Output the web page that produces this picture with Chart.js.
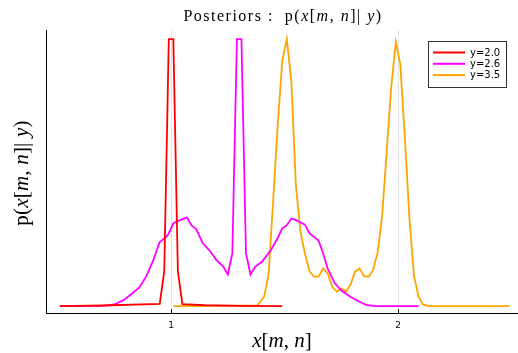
<!DOCTYPE html>
<html>
<head>
<meta charset="utf-8">
<script src="https://cdn.jsdelivr.net/npm/chart.js@4/dist/chart.umd.min.js"></script>
<style>
  html, body { margin: 0; padding: 0; background: #fff; }
  #c { display: block; }
</style>
</head>
<body>
<canvas id="c" width="518" height="353"></canvas>
<script>
// ---- data ----
const seriesLabels = ["y=2.0", "y=2.6", "y=3.5"];
const seriesColors = ["#ff0000", "#ff00ff", "#ffa500"];

const redX = [0.51, 0.70, 0.95, 0.97, 0.99, 1.01, 1.03, 1.05, 1.15, 1.30, 1.49];
const redY = [0.000, 0.002, 0.008, 0.130, 1.000, 1.000, 0.130, 0.007, 0.003, 0.001, 0.000];

const magX = [0.51, 0.70, 0.75, 0.79, 0.83, 0.86, 0.89, 0.92, 0.95, 0.98, 0.99, 1.01, 1.04, 1.07, 1.09, 1.11, 1.14, 1.17, 1.20, 1.23, 1.25, 1.27, 1.29, 1.31, 1.33, 1.35, 1.37, 1.40, 1.44, 1.47, 1.49, 1.51, 1.53, 1.55, 1.59, 1.61, 1.65, 1.67, 1.69, 1.72, 1.75, 1.79, 1.83, 1.86, 1.90, 2.09];
const magY = [0.000, 0.001, 0.006, 0.022, 0.048, 0.070, 0.110, 0.168, 0.240, 0.260, 0.272, 0.310, 0.322, 0.332, 0.302, 0.289, 0.235, 0.208, 0.172, 0.148, 0.118, 0.197, 1.000, 1.000, 0.197, 0.118, 0.147, 0.166, 0.210, 0.255, 0.291, 0.303, 0.328, 0.322, 0.305, 0.272, 0.245, 0.197, 0.140, 0.087, 0.058, 0.035, 0.016, 0.004, 0.000, 0.000];

const orX = [1.01, 1.38, 1.41, 1.43, 1.45, 1.47, 1.49, 1.51, 1.53, 1.55, 1.57, 1.59, 1.61, 1.63, 1.65, 1.67, 1.69, 1.71, 1.73, 1.75, 1.77, 1.79, 1.81, 1.83, 1.85, 1.87, 1.89, 1.91, 1.93, 1.95, 1.97, 1.99, 2.01, 2.03, 2.05, 2.07, 2.09, 2.11, 2.14, 2.49];
const orY = [0.000, 0.002, 0.035, 0.120, 0.400, 0.680, 0.920, 1.000, 0.840, 0.450, 0.280, 0.195, 0.130, 0.110, 0.110, 0.141, 0.122, 0.072, 0.054, 0.066, 0.054, 0.079, 0.128, 0.141, 0.112, 0.110, 0.135, 0.200, 0.340, 0.580, 0.820, 0.990, 0.905, 0.630, 0.330, 0.115, 0.035, 0.005, 0.000, 0.000];

const xTickValues = [1, 2];

// rich-text pieces: [text, italic]
const titlePieces = [["Posteriors :  p(", false], ["x", true], ["[", false], ["m", true], [", ", false], ["n", true], ["]| ", false], ["y", true], [")", false]];
const xTitlePieces = [["x", true], ["[", false], ["m", true], [", ", false], ["n", true], ["]", false]];
const yTitlePieces = [["p(", false], ["x", true], ["[", false], ["m", true], [", ", false], ["n", true], ["]| ", false], ["y", true], [")", false]];

function pts(xs, ys) { return xs.map((x, i) => ({ x: x, y: ys[i] })); }

const SERIF = '"Liberation Serif", "DejaVu Serif", serif';
const SANS = '"DejaVu Sans", "Liberation Sans", sans-serif';

function drawRich(ctx, pieces, cx, cy, size, rot, spacing) {
  ctx.save();
  ctx.translate(cx, cy);
  if (rot) ctx.rotate(rot);
  ctx.textBaseline = 'alphabetic';
  ctx.textAlign = 'left';
  ctx.fillStyle = '#000';
  const sp = spacing || 0;
  let total = 0;
  const widths = pieces.map(p => {
    ctx.font = (p[1] ? 'italic ' : '') + size + 'px ' + SERIF;
    const w = ctx.measureText(p[0]).width + sp * p[0].length;
    total += w;
    return w;
  });
  let x = -total / 2;
  pieces.forEach((p, i) => {
    ctx.font = (p[1] ? 'italic ' : '') + size + 'px ' + SERIF;
    if (sp) {
      let xx = x;
      for (const ch of p[0]) {
        ctx.fillText(ch, xx, 0);
        xx += ctx.measureText(ch).width + sp;
      }
    } else {
      ctx.fillText(p[0], x, 0);
    }
    x += widths[i];
  });
  ctx.restore();
}

const decorPlugin = {
  id: 'decor',
  afterDraw(chart) {
    const ctx = chart.ctx;
    const ca = chart.chartArea;
    const xs = chart.scales.x;
    // inward tick marks
    ctx.save();
    ctx.strokeStyle = '#000';
    ctx.lineWidth = 1;
    xTickValues.forEach(v => {
      const px = Math.round(xs.getPixelForValue(v)) + 0.5;
      ctx.beginPath();
      ctx.moveTo(px, ca.bottom);
      ctx.lineTo(px, ca.bottom - 4);
      ctx.stroke();
    });
    ctx.restore();
    // titles
    drawRich(ctx, titlePieces, 283, 21, 16, 0, 1.5);
    drawRich(ctx, xTitlePieces, 282, 347, 21, 0, 0);
    drawRich(ctx, yTitlePieces, 28, 173, 21, -Math.PI / 2, 0.2);
    // legend
    const bx = 428.5, by = 41.5, bw = 78, bh = 46;
    ctx.save();
    ctx.fillStyle = '#fff';
    ctx.fillRect(bx, by, bw, bh);
    ctx.strokeStyle = '#333';
    ctx.lineWidth = 1;
    ctx.strokeRect(bx, by, bw, bh);
    ctx.font = '10px ' + SANS;
    ctx.textBaseline = 'middle';
    ctx.textAlign = 'left';
    chart.data.datasets.forEach((ds, i) => {
      const y = 52.5 + i * 11.3;
      ctx.strokeStyle = ds.borderColor;
      ctx.lineWidth = 2;
      ctx.beginPath();
      ctx.moveTo(433, y);
      ctx.lineTo(465, y);
      ctx.stroke();
      ctx.fillStyle = '#000';
      ctx.fillText(ds.label, 470, y + 0.5);
    });
    ctx.restore();
  }
};

const datasets = [
  pts(redX, redY),
  pts(magX, magY),
  pts(orX, orY)
].map((d, i) => ({
  label: seriesLabels[i],
  data: d,
  borderColor: seriesColors[i],
  backgroundColor: seriesColors[i],
  borderWidth: 1.8,
  pointRadius: 0,
  tension: 0,
  fill: false
}));

new Chart(document.getElementById('c'), {
  type: 'line',
  data: { datasets: datasets },
  options: {
    responsive: false,
    animation: false,
    devicePixelRatio: 1,
    layout: { padding: { top: 30, right: 1, left: 0, bottom: 0 } },
    plugins: { legend: { display: false }, title: { display: false }, tooltip: { enabled: false } },
    scales: {
      x: {
        type: 'linear',
        min: 0.449,
        max: 2.524,
        afterBuildTicks: (s) => { s.ticks = xTickValues.map(v => ({ value: v })); },
        afterFit: (s) => { s.height = 40; },
        ticks: { font: { family: SANS, size: 9 }, color: '#000', padding: 7, maxRotation: 0 },
        grid: { color: '#e4e4e4', lineWidth: 1, drawTicks: false },
        border: { display: true, color: '#000', width: 1 }
      },
      y: {
        type: 'linear',
        min: -0.026,
        max: 1.034,
        afterFit: (s) => { s.width = 46; },
        ticks: { display: false },
        grid: { display: false, drawTicks: false },
        border: { display: true, color: '#000', width: 1 }
      }
    }
  },
  plugins: [decorPlugin]
});
</script>
</body>
</html>
